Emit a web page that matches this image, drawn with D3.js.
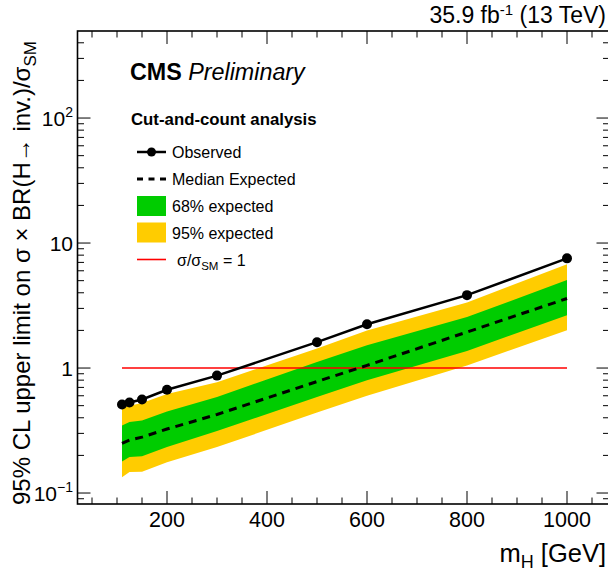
<!DOCTYPE html>
<html>
<head>
<meta charset="utf-8">
<script src="https://cdn.jsdelivr.net/npm/d3@7"></script>
<style>
  html, body { margin: 0; padding: 0; background: #fff; }
  svg { display: block; font-family: "Liberation Sans", Arial, Helvetica, sans-serif; }
</style>
</head>
<body>
<svg id="chart" width="608" height="575"></svg>
<script>
// Higgs mass points [GeV]
const masses = [110, 125, 150, 200, 300, 500, 600, 800, 1000];
// Observed 95% CL upper limit on sigma x BR(H -> inv.)/sigma_SM
const observed = [0.51, 0.53, 0.56, 0.67, 0.87, 1.61, 2.24, 3.83, 7.54];
// Median expected limit
const expected = [0.25, 0.265, 0.28, 0.325, 0.425, 0.78, 1.05, 1.94, 3.6];
// 68% expected band
const exp68Up = [0.347, 0.37, 0.38, 0.45, 0.586, 1.12, 1.52, 2.56, 5.05];
const exp68Dn = [0.179, 0.194, 0.197, 0.233, 0.313, 0.586, 0.80, 1.37, 2.65];
// 95% expected band
const exp95Up = [0.487, 0.50, 0.524, 0.62, 0.77, 1.43, 2.0, 3.35, 6.78];
const exp95Dn = [0.134, 0.147, 0.148, 0.176, 0.233, 0.44, 0.60, 1.05, 2.01];
// Axis ticks
const xTickValues = [200, 400, 600, 800, 1000];
const yTickValues = [0.1, 1, 10, 100];
const yTickLabels = [["10", "\u22121"], ["1", ""], ["10", ""], ["10", "2"]];

const svg = d3.select("#chart");
const frame = { left: 77.5, right: 609.5, top: 31, bottom: 504 };

const x = d3.scaleLinear().domain([21, 1085]).range([frame.left, frame.right]);
const y = d3.scaleLog().domain([0.0817, 497]).range([frame.bottom, frame.top]);

const rows = masses.map((m, i) => ({
  m, obs: observed[i], exp: expected[i],
  u68: exp68Up[i], d68: exp68Dn[i], u95: exp95Up[i], d95: exp95Dn[i]
}));

const GREEN = "#00cc00", YELLOW = "#ffcc00", RED = "#ff0000";

// Expected bands
const band = (lo, hi) => d3.area().x(d => x(d.m)).y0(d => y(d[lo])).y1(d => y(d[hi]));
svg.append("path").datum(rows).attr("d", band("d95", "u95")).attr("fill", YELLOW);
svg.append("path").datum(rows).attr("d", band("d68", "u68")).attr("fill", GREEN);

// SM reference line
svg.append("line")
  .attr("x1", x(masses[0])).attr("x2", x(masses[masses.length - 1]))
  .attr("y1", y(1)).attr("y2", y(1))
  .attr("stroke", RED).attr("stroke-width", 1.6);

// Median expected
svg.append("path").datum(rows)
  .attr("d", d3.line().x(d => x(d.m)).y(d => y(d.exp)))
  .attr("fill", "none").attr("stroke", "#000").attr("stroke-width", 3)
  .attr("stroke-dasharray", "8,6");

// Observed
svg.append("path").datum(rows)
  .attr("d", d3.line().x(d => x(d.m)).y(d => y(d.obs)))
  .attr("fill", "none").attr("stroke", "#000").attr("stroke-width", 2.5);
svg.selectAll("circle.obs").data(rows).enter().append("circle")
  .attr("class", "obs")
  .attr("cx", d => x(d.m)).attr("cy", d => y(d.obs)).attr("r", 5).attr("fill", "#000");

// Axes: ticks on all four sides, pointing inwards
const axisG = svg.append("g").attr("stroke", "#000").attr("stroke-width", 1);
const majorLen = 13, minorLen = 6.5;
const xMinor = d3.range(50, 1085, 50);
xMinor.forEach(v => {
  const len = v % 200 === 0 ? majorLen : minorLen;
  const px = x(v);
  if (px <= frame.left + 0.5 || px >= frame.right) return;
  axisG.append("line").attr("x1", px).attr("x2", px).attr("y1", frame.bottom).attr("y2", frame.bottom - len);
  axisG.append("line").attr("x1", px).attr("x2", px).attr("y1", frame.top).attr("y2", frame.top + len);
});
const yMinor = [];
[0.01, 0.1, 1, 10, 100].forEach(dec => {
  for (let k = 1; k <= 9; k++) yMinor.push(dec * k);
});
yMinor.forEach(v => {
  const py = y(v);
  if (py > frame.bottom || py < frame.top) return;
  const isMajor = Math.abs(Math.log10(v) - Math.round(Math.log10(v))) < 1e-9;
  const len = isMajor ? majorLen : minorLen;
  axisG.append("line").attr("x1", frame.left).attr("x2", frame.left + len).attr("y1", py).attr("y2", py);
  axisG.append("line").attr("x1", frame.right).attr("x2", frame.right - len).attr("y1", py).attr("y2", py);
});

// Frame
svg.append("rect")
  .attr("x", frame.left).attr("y", frame.top)
  .attr("width", frame.right - frame.left).attr("height", frame.bottom - frame.top)
  .attr("fill", "none").attr("stroke", "#000").attr("stroke-width", 1.6);

// X tick labels
svg.selectAll("text.xt").data(xTickValues).enter().append("text")
  .attr("class", "xt")
  .attr("x", d => x(d)).attr("y", 527)
  .attr("text-anchor", "middle").attr("font-size", 21.5).text(d => d);

// Y tick labels
yTickValues.forEach((v, i) => {
  const [base, sup] = yTickLabels[i];
  const t = svg.append("text").attr("x", 73).attr("y", y(v) + 7.5)
    .attr("text-anchor", "end").attr("font-size", 21);
  t.append("tspan").text(base);
  if (sup) t.append("tspan").attr("font-size", 14).attr("dy", -9).text(sup);
});

// Axis titles
const xt = svg.append("text").attr("x", 606).attr("y", 562)
  .attr("text-anchor", "end").attr("font-size", 25.5);
xt.append("tspan").text("m");
xt.append("tspan").attr("font-size", 18).attr("dy", 6).text("H");
xt.append("tspan").attr("dy", -6).text(" [GeV]");

const yt = svg.append("text")
  .attr("transform", "translate(30,505) rotate(-90)")
  .attr("text-anchor", "start").attr("font-size", 24);
yt.append("tspan").text("95% CL upper limit on \u03c3 \u00d7 BR(H\u2192 inv.)/\u03c3");
yt.append("tspan").attr("font-size", 17).attr("dy", 6).text("SM");

// Luminosity label
const lumi = svg.append("text").attr("x", 606).attr("y", 23)
  .attr("text-anchor", "end").attr("font-size", 23);
lumi.append("tspan").text("35.9 fb");
lumi.append("tspan").attr("font-size", 15).attr("dy", -8).text("-1");
lumi.append("tspan").attr("dy", 8).text(" (13 TeV)");

// CMS label
const cms = svg.append("text").attr("x", 130).attr("y", 80).attr("font-size", 23.3);
cms.append("tspan").attr("font-weight", "bold").text("CMS");
cms.append("tspan").attr("font-style", "italic").text(" Preliminary");

// Legend
svg.append("text").attr("x", 131).attr("y", 125)
  .attr("font-size", 16.8).attr("font-weight", "bold").text("Cut-and-count analysis");

const lx0 = 137, lx1 = 166, ltx = 172;
const legendRows = [152, 179, 206, 232.5, 259.5];

svg.append("line").attr("x1", lx0).attr("x2", lx1).attr("y1", legendRows[0]).attr("y2", legendRows[0])
  .attr("stroke", "#000").attr("stroke-width", 2.5);
svg.append("circle").attr("cx", (lx0 + lx1) / 2).attr("cy", legendRows[0]).attr("r", 4.5).attr("fill", "#000");

svg.append("line").attr("x1", lx0).attr("x2", lx1).attr("y1", legendRows[1]).attr("y2", legendRows[1])
  .attr("stroke", "#000").attr("stroke-width", 3).attr("stroke-dasharray", "6,5.5");

svg.append("rect").attr("x", lx0).attr("y", legendRows[2] - 10).attr("width", lx1 - lx0).attr("height", 20)
  .attr("fill", GREEN);
svg.append("rect").attr("x", lx0).attr("y", legendRows[3] - 10).attr("width", lx1 - lx0).attr("height", 20)
  .attr("fill", YELLOW);

svg.append("line").attr("x1", lx0).attr("x2", lx1).attr("y1", legendRows[4]).attr("y2", legendRows[4])
  .attr("stroke", RED).attr("stroke-width", 1.6);

const legendText = ["Observed", "Median Expected", "68% expected", "95% expected"];
legendText.forEach((s, i) => {
  svg.append("text").attr("x", ltx).attr("y", legendRows[i] + 6).attr("font-size", 16).text(s);
});
const smt = svg.append("text").attr("x", 177).attr("y", legendRows[4] + 6).attr("font-size", 16);
smt.append("tspan").text("\u03c3/\u03c3");
smt.append("tspan").attr("font-size", 11.5).attr("dy", 4).text("SM");
smt.append("tspan").attr("dy", -4).text(" = 1");
</script>
</body>
</html>
